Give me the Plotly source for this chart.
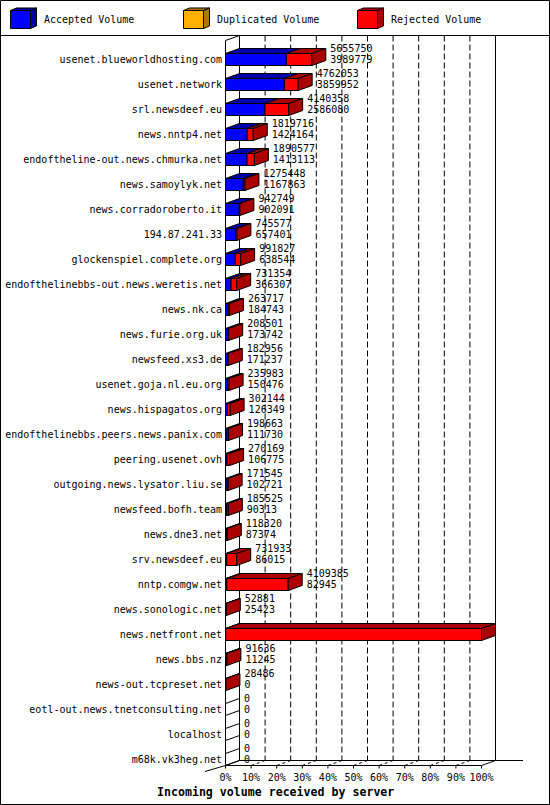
import plotly.graph_objects as go

# ---------------- data ----------------
servers = [
    "usenet.blueworldhosting.com", "usenet.network", "srl.newsdeef.eu", "news.nntp4.net",
    "endoftheline-out.news.chmurka.net", "news.samoylyk.net", "news.corradoroberto.it",
    "194.87.241.33", "glockenspiel.complete.org", "endofthelinebbs-out.news.weretis.net",
    "news.nk.ca", "news.furie.org.uk", "newsfeed.xs3.de", "usenet.goja.nl.eu.org",
    "news.hispagatos.org", "endofthelinebbs.peers.news.panix.com", "peering.usenet.ovh",
    "outgoing.news.lysator.liu.se", "newsfeed.bofh.team", "news.dne3.net", "srv.newsdeef.eu",
    "nntp.comgw.net", "news.sonologic.net", "news.netfront.net", "news.bbs.nz",
    "news-out.tcpreset.net", "eotl-out.news.tnetconsulting.net", "localhost", "m68k.vk3heg.net",
]
offered = [
    5655750, 4762053, 4140358, 1819716, 1890577, 1275448, 942749, 745577, 991827, 731354,
    263717, 208501, 182956, 235983, 302144, 198663, 270169, 171545, 185525, 118320,
    731933, 4109385, 52881, 16778052, 91636, 28486, 0, 0, 0,
]
accepted = [
    3989779, 3859952, 2586080, 1424164, 1413113, 1167863, 902091, 657401, 638544, 366307,
    184743, 173742, 171237, 150476, 126349, 111730, 106775, 102721, 90313, 87374,
    86015, 82945, 25423, 14728, 11245, 0, 0, 0, 0,
]
xtick_values = [0, 10, 20, 30, 40, 50, 60, 70, 80, 90, 100]
xtick_labels = ["0%", "10%", "20%", "30%", "40%", "50%", "60%", "70%", "80%", "90%", "100%"]
legend_names = ["Accepted Volume", "Duplicated Volume", "Rejected Volume"]
x_title = "Incoming volume received by server"

# ---------------- styling ----------------
FONT = "DejaVu Sans Mono"
C_FRONT = {"acc": "#0000FF", "dup": "#FFB000", "rej": "#FF0000"}
C_DARK = {"acc": "#0000AA", "dup": "#B07800", "rej": "#AA0000"}

W, HGT = 550, 805
ML, MR, MT, MB = 225, 53, 34, 38
PX_PER_X = 2.56
X0 = -0.5 / PX_PER_X
X1 = X0 + (W - ML - MR) / PX_PER_X
Y_TOP, Y_BOT = -1.02, 28.3

DX = 14 / PX_PER_X   # depth offset (x units)
DY = 0.2             # depth offset (category units)
HB = 0.24            # half bar thickness
WALL_TOP = -0.96
FLOOR_FRONT = 28.24
FLOOR_BACK = FLOOR_FRONT - DY


def px2paper(px, py):
    return (px - ML) / (W - ML - MR), (HGT - MB - py) / (HGT - MT - MB)


maxv = max(offered)
off_pct = [v / maxv * 100 for v in offered]
acc_pct = [v / maxv * 100 for v in accepted]
idx = list(range(len(servers)))

fig = go.Figure()

# front faces
fig.add_trace(go.Bar(
    y=idx, x=[a if a > 0 else None for a in acc_pct], base=[0] * len(idx),
    orientation="h", width=2 * HB, marker=dict(color=C_FRONT["acc"], line=dict(color="black", width=1)),
    hoverinfo="skip", name=legend_names[0]))
fig.add_trace(go.Bar(
    y=idx, x=[(o - a) if (o - a) > 0 else None for o, a in zip(off_pct, acc_pct)], base=acc_pct,
    orientation="h", width=2 * HB, marker=dict(color=C_FRONT["rej"], line=dict(color="black", width=1)),
    hoverinfo="skip", name=legend_names[2]))

# 3D top and side faces
tops = {"acc": ([], []), "rej": ([], [])}
sides = {"acc": ([], []), "rej": ([], [])}
zx, zy = [], []
for i, o, a in zip(idx, off_pct, acc_pct):
    t, b = i - HB, i + HB
    segs = []
    if a > 0:
        segs.append(("acc", 0, a))
    if o - a > 0:
        segs.append(("rej", a, o))
    for key, s0, s1 in segs:
        xs, ys = tops[key]
        xs += [s0, s1, s1 + DX, s0 + DX, s0, None]
        ys += [t, t, t - DY, t - DY, t, None]
    if segs:
        key, s0, s1 = segs[-1]
        xs, ys = sides[key]
        xs += [s1, s1 + DX, s1 + DX, s1, s1, None]
        ys += [t, t - DY, b - DY, b, t, None]
    else:
        zx += [0, DX, None, 0, DX, None]
        zy += [t, t - DY, None, b, b - DY, None]

for key in ("acc", "rej"):
    for xs, ys in (tops[key], sides[key]):
        if xs:
            fig.add_trace(go.Scatter(x=xs, y=ys, mode="lines", fill="toself",
                                     fillcolor=C_DARK[key], line=dict(color="black", width=1),
                                     hoverinfo="skip", showlegend=False))
fig.add_trace(go.Scatter(x=zx, y=zy, mode="lines", line=dict(color="black", width=1),
                         hoverinfo="skip", showlegend=False))

# value labels
GAP = 4.5 / PX_PER_X
lab_x = [o + DX + GAP for o in off_pct]
fig.add_trace(go.Scatter(x=lab_x, y=[i - 0.40 for i in idx], mode="text",
                         text=[str(v) for v in offered], textposition="middle right",
                         textfont=dict(family=FONT, size=10, color="black"),
                         hoverinfo="skip", showlegend=False, cliponaxis=False))
fig.add_trace(go.Scatter(x=lab_x, y=[i + 0.05 for i in idx], mode="text",
                         text=[str(v) for v in accepted], textposition="middle right",
                         textfont=dict(family=FONT, size=10, color="black"),
                         hoverinfo="skip", showlegend=False, cliponaxis=False))

# ---------------- axes decoration (walls, grid, floor) ----------------
shapes = []
L = dict(color="black", width=1)
# back wall
shapes.append(dict(type="rect", xref="x", yref="y", x0=DX, x1=100 + DX, y0=WALL_TOP, y1=FLOOR_BACK,
                   line=L, layer="below"))
for v in xtick_values[1:-1]:
    shapes.append(dict(type="line", xref="x", yref="y", x0=v + DX, x1=v + DX, y0=WALL_TOP, y1=FLOOR_BACK,
                       line=dict(color="black", width=1, dash="6px,3px"), layer="below"))
    shapes.append(dict(type="line", xref="x", yref="y", x0=v, x1=v + DX, y0=FLOOR_FRONT, y1=FLOOR_BACK,
                       line=dict(color="black", width=1, dash="3px,3px"), layer="below"))
# left wall
shapes.append(dict(type="line", xref="x", yref="y", x0=0, x1=0, y0=WALL_TOP + DY, y1=FLOOR_FRONT, line=L))
shapes.append(dict(type="line", xref="x", yref="y", x0=0, x1=DX, y0=WALL_TOP + DY, y1=WALL_TOP, line=L))
# floor
shapes.append(dict(type="line", xref="x", yref="y", x0=0, x1=100, y0=FLOOR_FRONT, y1=FLOOR_FRONT, line=L))
shapes.append(dict(type="line", xref="x", yref="y", x0=100, x1=100 + DX, y0=FLOOR_FRONT, y1=FLOOR_BACK, line=L))
shapes.append(dict(type="line", xref="x", yref="y", x0=0, x1=DX, y0=FLOOR_FRONT, y1=FLOOR_BACK, line=L))
# extensions outside the plot area
ax0, ay0 = px2paper(205, 771.5)
ax1, ay1 = px2paper(225.5, 765.5)
shapes.append(dict(type="line", xref="paper", yref="paper", x0=ax0, y0=ay0, x1=ax1, y1=ay1, line=L))
bx0, by0 = px2paper(495.5, 760.5)
bx1, _ = px2paper(523, 760.5)
shapes.append(dict(type="line", xref="paper", yref="paper", x0=bx0, y0=by0, x1=bx1, y1=by0, line=L))
# tick marks
_, ty0 = px2paper(0, 765.5)
_, ty1 = px2paper(0, 768.5)
for v in xtick_values:
    shapes.append(dict(type="line", xref="x", yref="paper", x0=v, x1=v, y0=ty0, y1=ty1, line=L))

# ---------------- frame & legend ----------------
fx0, fy0 = px2paper(0.5, 804.5)
fx1, fy1 = px2paper(549.5, 0.5)
shapes.append(dict(type="rect", xref="paper", yref="paper", x0=fx0, y0=fy0, x1=fx1, y1=fy1, line=L))
sx0, sy = px2paper(0.5, 35.5)
sx1, _ = px2paper(549.5, 35.5)
shapes.append(dict(type="line", xref="paper", yref="paper", x0=sx0, y0=sy, x1=sx1, y1=sy, line=L))


def ppath(points):
    parts = []
    for k, (px, py) in enumerate(points):
        xp, yp = px2paper(px, py)
        parts.append(("M" if k == 0 else "L") + f"{xp:.6f},{yp:.6f}")
    return " ".join(parts) + " Z"


annotations = []
legend_x = [10.5, 183.5, 357.5]
for name, key, lx in zip(legend_names, ["acc", "dup", "rej"], legend_x):
    x0, x1, y0, y1 = lx, lx + 20, 10.5, 28.5
    ddx, ddy = 6, 2.5
    shapes.append(dict(type="path", xref="paper", yref="paper",
                       path=ppath([(x1, y0), (x1 + ddx, y0 - ddy), (x1 + ddx, y1 - ddy), (x1, y1)]),
                       fillcolor=C_DARK[key], line=L))
    shapes.append(dict(type="path", xref="paper", yref="paper",
                       path=ppath([(x0, y0), (x1, y0), (x1 + ddx, y0 - ddy), (x0 + ddx, y0 - ddy)]),
                       fillcolor=C_DARK[key], line=L))
    shapes.append(dict(type="path", xref="paper", yref="paper",
                       path=ppath([(x0, y0), (x1, y0), (x1, y1), (x0, y1)]),
                       fillcolor=C_FRONT[key], line=L))
    tx, ty = px2paper(lx + 31.5, 20)
    annotations.append(dict(text=name, xref="paper", yref="paper", x=tx, y=ty, xanchor="left",
                            yanchor="middle", showarrow=False,
                            font=dict(family=FONT, size=10, color="black")))

ttx, tty = px2paper(275, 792)
annotations.append(dict(text="<b>" + x_title + "</b>", xref="paper", yref="paper", x=ttx, y=tty,
                        xanchor="center", yanchor="middle", showarrow=False,
                        font=dict(family=FONT, size=11.6, color="black")))

fig.update_layout(
    width=W, height=HGT, margin=dict(l=ML, r=MR, t=MT, b=MB, pad=0, autoexpand=False),
    paper_bgcolor="white", plot_bgcolor="white", showlegend=False,
    barmode="overlay", shapes=shapes, annotations=annotations,
    xaxis=dict(range=[X0, X1], showgrid=False, zeroline=False, showline=False, automargin=False,
               tickvals=xtick_values, ticktext=xtick_labels, ticks="", ticklabelstandoff=3,
               tickfont=dict(family=FONT, size=10, color="black"), fixedrange=True),
    yaxis=dict(range=[Y_BOT, Y_TOP], showgrid=False, zeroline=False, showline=False, automargin=False,
               tickvals=idx, ticktext=servers, ticks="", ticklabelstandoff=2,
               tickfont=dict(family=FONT, size=10, color="black"), fixedrange=True),
)

fig.write_html("out.html", config={"responsive": False, "displayModeBar": False},
               post_script="document.body.style.margin='0';document.body.style.overflow='hidden';")
